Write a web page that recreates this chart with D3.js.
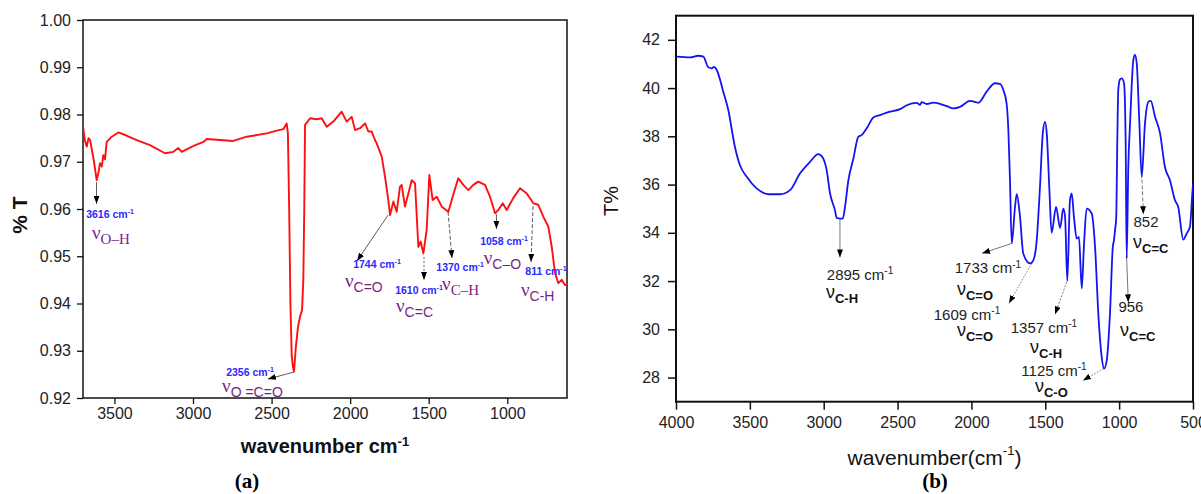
<!DOCTYPE html>
<html><head><meta charset="utf-8">
<script src="https://cdn.jsdelivr.net/npm/d3@7"></script>
<style>html,body{margin:0;padding:0;background:#fff;} svg{display:block;font-family:"Liberation Sans",Arial,sans-serif;}</style>
</head><body><svg id="c" width="1201" height="494"></svg>
<script>
// ---------------- Panel (a) data ----------------
const wavenumberA = [3698,3688,3676,3665,3655,3645,3630,3613,3600,3592,3580,3571,3560,3549,3517,3475,3420,3358,3274,3178,3125,3094,3072,3000,2934,2913,2828,2744,2658,2531,2467,2425,2404,2396,2388,2380,2372,2364,2357,2345,2332,2319,2306,2298,2292,2287,2255,2213,2181,2149,2107,2054,2022,1990,1969,1937,1905,1884,1863,1842,1831,1799,1778,1757,1746,1725,1704,1683,1672,1651,1608,1587,1566,1551,1534,1513,1496,1475,1449,1417,1375,1344,1312,1280,1248,1216,1185,1142,1110,1078,1057,1029,1004,962,919,876,834,803,771,739,717,696,675,654,633,620];
const transA = [0.9771,0.9745,0.9732,0.9750,0.9746,0.9728,0.9700,0.9661,0.9680,0.9697,0.9690,0.9714,0.9705,0.9742,0.9753,0.9762,0.9755,0.9746,0.9735,0.9718,0.9721,0.9729,0.9721,0.9733,0.9742,0.9748,0.9746,0.9744,0.9753,0.9760,0.9766,0.9769,0.9781,0.9760,0.9600,0.9400,0.9290,0.9265,0.9256,0.9310,0.9350,0.9372,0.9386,0.9450,0.9600,0.9778,0.9792,0.9790,0.9792,0.9774,0.9785,0.9806,0.9785,0.9795,0.9767,0.9771,0.9781,0.9764,0.9764,0.9746,0.9739,0.9711,0.9668,0.9619,0.9587,0.9616,0.9594,0.9647,0.9651,0.9605,0.9661,0.9654,0.9520,0.9531,0.9506,0.9556,0.9672,0.9619,0.9626,0.9605,0.9594,0.9630,0.9665,0.9651,0.9640,0.9651,0.9658,0.9651,0.9626,0.9591,0.9598,0.9612,0.9598,0.9623,0.9644,0.9633,0.9612,0.9609,0.9584,0.9563,0.9520,0.9464,0.9443,0.9450,0.9439,0.9440];
const yTicksA = [0.92,0.93,0.94,0.95,0.96,0.97,0.98,0.99,1.00];
const xTicksA = [3500,3000,2500,2000,1500,1000];
const peakLabelsA = ["3616","2356","1744","1610","1370","1058","811"];
const bondLabelsA = ["O–H","O =C=O","C=O","C=C","C–H","C–O","C-H"];

// ---------------- Panel (b) data ----------------
const wavenumberB = [3995,3905,3849,3815,3781,3758,3743,3724,3680,3646,3601,3567,3521,3454,3375,3296,3228,3161,3093,3037,3014,2980,2957,2924,2912,2889,2871,2856,2833,2799,2766,2743,2709,2664,2619,2551,2483,2438,2370,2348,2337,2303,2258,2167,2122,2077,2010,1976,1953,1897,1840,1807,1784,1762,1750,1739,1727,1705,1693,1671,1649,1603,1581,1558,1536,1517,1502,1490,1473,1457,1427,1400,1378,1366,1351,1333,1321,1306,1287,1272,1253,1238,1220,1186,1163,1141,1118,1102,1084,1062,1043,1035,1028,1020,1012,1006,995,983,967,956,949,938,926,904,893,881,863,847,825,802,786,757,723,690,656,622,600,566,543,521,505,500];
const transB = [41.30,41.27,41.34,41.30,40.86,40.82,40.88,40.75,39.85,39.09,37.56,36.80,36.32,35.84,35.60,35.60,35.77,36.46,36.94,37.26,37.18,36.60,35.63,34.94,34.62,34.59,34.59,35.07,36.18,37.08,37.98,38.05,38.33,38.78,38.88,39.02,39.13,39.29,39.39,39.30,39.42,39.34,39.40,39.25,39.16,39.22,39.47,39.43,39.39,39.85,40.20,40.17,39.92,39.37,38.26,36.18,33.56,35.07,35.60,34.66,33.14,32.73,32.86,33.69,35.90,38.12,38.60,38.12,35.90,34.00,35.07,34.20,35.00,34.66,32.00,35.35,35.63,34.66,33.76,33.83,31.70,33.50,35.00,34.80,33.41,30.65,28.85,28.37,28.71,30.65,33.41,33.70,34.10,34.60,38.00,39.92,40.35,40.40,40.20,37.84,32.93,36.73,38.54,41.16,41.37,41.02,38.54,36.32,38.54,39.43,39.47,38.81,38.12,36.73,36.18,35.35,35.07,33.72,33.97,34.24,35.60,36.00];
const yTicksB = [28,30,32,34,36,38,40,42];
const xTicksB = [4000,3500,3000,2500,2000,1500,1000,500];
const peakLabelsB = ["2895 cm","1733 cm","1609 cm","1357 cm","1125 cm","956","852"];
const bondLabelsB = ["C-H","C=O","C=O","C-H","C-O","C=C","C=C"];

// annotation anchors in data space (wavenumber, transmittance)
const annA = [
  {tail:[3614,0.9657], head:[3614,0.9611], dash:null,  num:[3528,0.9581], nu:[3643,0.9537], serif:true},
  {tail:[2357,0.9255], head:[2523,0.9240], dash:null,  num:[2637,0.9247], nu:[2815,0.9213], serif:false},
  {tail:[1759,0.9587], head:[1956,0.9490], dash:null,  num:[1829,0.9475], nu:[2033,0.9435], serif:false},
  {tail:[1530,0.9498], head:[1530,0.9450], dash:"2,2", num:[1562,0.9420], nu:[1708,0.9382], serif:false},
  {tail:[1377,0.9594], head:[1352,0.9496], dash:"4,2", num:[1300,0.9469], nu:[1415,0.9429], serif:true},
  {tail:[1069,0.9589], head:[1069,0.9558], dash:null,  num:[1021,0.9524], nu:[1150,0.9484], serif:false},
  {tail:[836,0.9606],  head:[849,0.9488],  dash:"4,2", num:[754,0.9460],  nu:[913,0.9416],  serif:false}
];
const annB = [
  {tail:[2890,34.56], head:[2890,32.98], dash:null,  num:[2754,32.05], nu:[2985,31.28]},
  {tail:[1727,33.56], head:[1928,33.15], dash:null,  num:[1888,32.32], nu:[2098,31.41]},
  {tail:[1592,32.73], head:[1746,31.08], dash:"1.5,1.5", num:[2030,30.40], nu:[2098,29.71]},
  {tail:[1355,31.96], head:[1434,30.62], dash:"2,1.5", num:[1509,29.85], nu:[1603,29.00]},
  {tail:[1107,28.37], head:[1245,27.88], dash:"1.5,1.5", num:[1441,28.08], nu:[1570,27.39]},
  {tail:[949,32.93],  head:[938,31.12],  dash:null,  num:[920,30.71],  nu:[994,29.71]},
  {tail:[847,36.46],  head:[836,34.77],  dash:"4,2", num:[818,34.23],  nu:[906,33.36]}
];

const svg = d3.select("#c");
const defs = svg.append("defs");
defs.append("marker").attr("id","ah").attr("viewBox","0 0 8 6").attr("refX",8).attr("refY",3)
  .attr("markerWidth",8).attr("markerHeight",6).attr("markerUnits","userSpaceOnUse").attr("orient","auto")
  .append("path").attr("d","M0,0L8,3L0,6Z").attr("fill","#000");

function sup(textSel, main, s, size){
  textSel.append("tspan").text(main);
  textSel.append("tspan").attr("font-size",size).attr("dy",-size*0.55).text(s);
}

// ================= Panel (a) =================
const A = {l:83, r:567, t:20, b:398};
const xA = d3.scaleLinear().domain([3700, 620]).range([A.l, A.r]);
const yA = d3.scaleLinear().domain([0.92, 1.00]).range([A.b, A.t]);
const gA = svg.append("g");

const axYA = gA.append("g").attr("transform",`translate(${A.l},0)`)
  .call(d3.axisLeft(yA).tickValues(yTicksA).tickFormat(d3.format(".2f")).tickSize(6).tickPadding(6));
const axXA = gA.append("g").attr("transform",`translate(0,${A.b})`)
  .call(d3.axisBottom(xA).tickValues(xTicksA).tickFormat(d3.format("d")).tickSize(6).tickPadding(4));
[axYA, axXA].forEach(a=>{
  a.select(".domain").remove();
  a.selectAll("line").attr("stroke","#111").attr("stroke-width",1.3);
  a.selectAll("text").attr("font-family","'Liberation Sans',Arial,sans-serif").attr("font-size",16).attr("fill","#222");
});
gA.append("rect").attr("x",A.l).attr("y",A.t).attr("width",A.r-A.l).attr("height",A.b-A.t)
  .attr("fill","none").attr("stroke","#111").attr("stroke-width",1.5);

defs.append("clipPath").attr("id","clipA").append("rect")
  .attr("x",A.l).attr("y",A.t).attr("width",A.r-A.l).attr("height",A.b-A.t);
gA.append("path").datum(wavenumberA.map((w,i)=>[w,transA[i]]))
  .attr("clip-path","url(#clipA)")
  .attr("fill","none").attr("stroke","#ff1010").attr("stroke-width",1.9).attr("stroke-linejoin","round")
  .attr("d", d3.line().x(d=>xA(d[0])).y(d=>yA(d[1])));

annA.forEach((a,i)=>{
  gA.append("line").attr("x1",xA(a.tail[0])).attr("y1",yA(a.tail[1]))
    .attr("x2",xA(a.head[0])).attr("y2",yA(a.head[1]))
    .attr("stroke","#333").attr("stroke-width",0.8).attr("stroke-dasharray",a.dash)
    .attr("marker-end","url(#ah)");
  const t = gA.append("text").attr("x",xA(a.num[0])).attr("y",yA(a.num[1]))
    .attr("text-anchor","middle").attr("font-size",10.5).attr("font-weight","bold").attr("fill","#2a2aff");
  sup(t, peakLabelsA[i]+" cm", "-1", 7);
  const n = gA.append("text").attr("x",xA(a.nu[0])).attr("y",yA(a.nu[1])).attr("fill","#7b1f86");
  n.append("tspan").attr("font-size",19).attr("font-family","'Liberation Serif',serif").text("ν");
  n.append("tspan").attr("font-size",a.serif?15:14).attr("dy",5)
    .attr("font-family",a.serif?"'Liberation Serif',serif":"'Liberation Sans',Arial,sans-serif")
    .text(bondLabelsA[i]);
});

gA.append("text").attr("transform",`translate(27,215) rotate(-90)`).attr("text-anchor","middle")
  .attr("font-size",21).attr("font-weight","bold").attr("fill","#111").text("% T");
const tA = gA.append("text").attr("x",(A.l+A.r)/2).attr("y",453).attr("text-anchor","middle")
  .attr("font-size",20).attr("font-weight","bold").attr("fill","#111");
sup(tA,"wavenumber cm","-1",13);
gA.append("text").attr("x",247).attr("y",488).attr("text-anchor","middle")
  .attr("font-family","'Liberation Serif',serif").attr("font-size",21).attr("font-weight","bold").text("(a)");

// ================= Panel (b) =================
const B = {l:676, r:1193, t:15.7, b:401.7};
const xB = d3.scaleLinear().domain([4000, 500]).range([B.l, B.r]);
const yB = d3.scaleLinear().domain([27, 43]).range([B.b, B.t]);
const gB = svg.append("g");

const axYB = gB.append("g").attr("transform",`translate(${B.l},0)`)
  .call(d3.axisLeft(yB).tickValues(yTicksB).tickFormat(d3.format("d")).tickSize(8).tickPadding(8));
const axXB = gB.append("g").attr("transform",`translate(0,${B.b})`)
  .call(d3.axisBottom(xB).tickValues(xTicksB).tickFormat(d3.format("d")).tickSize(8).tickPadding(7));
[axYB, axXB].forEach(a=>{
  a.select(".domain").remove();
  a.selectAll("line").attr("stroke","#111").attr("stroke-width",1.5);
  a.selectAll("text").attr("font-family","'Liberation Sans',Arial,sans-serif").attr("font-size",16).attr("fill","#222");
});
gB.append("rect").attr("x",B.l).attr("y",B.t).attr("width",B.r-B.l).attr("height",B.b-B.t)
  .attr("fill","none").attr("stroke","#111").attr("stroke-width",2);

defs.append("clipPath").attr("id","clipB").append("rect")
  .attr("x",B.l).attr("y",B.t).attr("width",B.r-B.l).attr("height",B.b-B.t);
gB.append("path").datum(wavenumberB.map((w,i)=>[w,transB[i]]))
  .attr("clip-path","url(#clipB)")
  .attr("fill","none").attr("stroke","#1414f0").attr("stroke-width",1.8).attr("stroke-linejoin","round")
  .attr("d", d3.line().curve(d3.curveMonotoneX).x(d=>xB(d[0])).y(d=>yB(d[1])));

annB.forEach((a,i)=>{
  gB.append("line").attr("x1",xB(a.tail[0])).attr("y1",yB(a.tail[1]))
    .attr("x2",xB(a.head[0])).attr("y2",yB(a.head[1]))
    .attr("stroke","#555").attr("stroke-width",0.8).attr("stroke-dasharray",a.dash)
    .attr("marker-end","url(#ah)");
  const t = gB.append("text").attr("x",xB(a.num[0])).attr("y",yB(a.num[1]))
    .attr("text-anchor","middle").attr("font-size",15).attr("fill","#222");
  if (peakLabelsB[i].indexOf("cm")>=0) sup(t, peakLabelsB[i], "-1", 10); else t.text(peakLabelsB[i]);
  const n = gB.append("text").attr("x",xB(a.nu[0])).attr("y",yB(a.nu[1])).attr("fill","#111");
  n.append("tspan").attr("font-size",18).text("ν");
  n.append("tspan").attr("font-size",13).attr("font-weight","bold").attr("dy",5).text(bondLabelsB[i]);
});

gB.append("text").attr("transform",`translate(618,201) rotate(-90)`).attr("text-anchor","middle")
  .attr("font-size",20).attr("fill","#111").text("T%");
const tB = gB.append("text").attr("x",(B.l+B.r)/2).attr("y",465).attr("text-anchor","middle")
  .attr("font-size",21).attr("fill","#111");
tB.append("tspan").text("wavenumber(cm");
tB.append("tspan").attr("font-size",13).attr("dy",-10).text("-1");
tB.append("tspan").attr("dy",10).text(")");
gB.append("text").attr("x",935).attr("y",488).attr("text-anchor","middle")
  .attr("font-family","'Liberation Serif',serif").attr("font-size",21).attr("font-weight","bold").text("(b)");
</script></body></html>
